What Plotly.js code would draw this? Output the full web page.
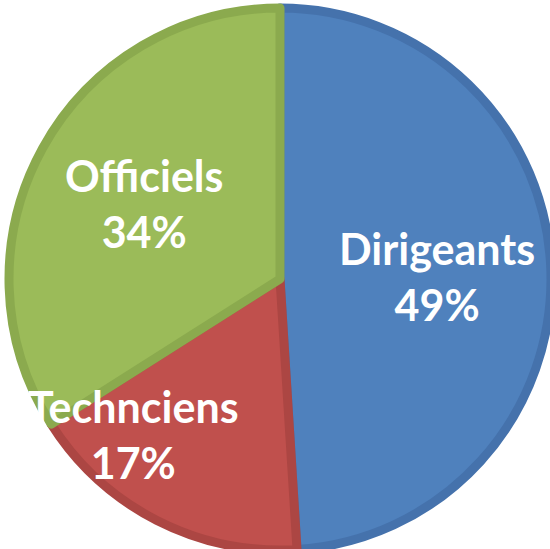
<!DOCTYPE html>
<html><head><meta charset="utf-8">
<script src="https://cdn.plot.ly/plotly-3.0.1.min.js"></script>
<style>html,body{margin:0;padding:0;overflow:hidden;background:#fff;width:550px;height:549px}</style>
</head><body><div id="chart"></div>
<script>
const labels = ["Dirigeants", "Technciens", "Officiels"];
const values = [49, 17, 34];
const fillColors = ["#4F81BD", "#C0504D", "#9BBB59"];
const edgeColors = ["#4572AC", "#AC4643", "#8BAA4E"];
const labelPos = [[0.780, 0.507], [0.238, 0.225], [0.257, 0.636]];

const total = values.reduce((a, b) => a + b, 0);
const W = 560, H = 560;

const data = [{
  type: "pie",
  labels: labels,
  values: values,
  sort: false,
  direction: "clockwise",
  rotation: 0,
  textinfo: "none",
  hoverinfo: "label+percent",
  marker: { colors: fillColors, line: { color: edgeColors, width: 9 } },
  domain: { x: [9 / W, 551 / W], y: [10 / H, 552 / H] },
  showlegend: false
}];

const annotations = labels.map((l, i) => ({
  text: l + "<br>" + Math.round(values[i] / total * 100) + "%",
  x: labelPos[i][0], y: labelPos[i][1], xref: "paper", yref: "paper",
  showarrow: false, xanchor: "center", yanchor: "middle",
  font: { family: "Lato, 'Liberation Sans', sans-serif", size: 43, color: "#FFFFFF", weight: "bold" }
}));

Plotly.newPlot("chart", data, {
  width: W, height: H,
  margin: { l: 0, r: 0, t: 0, b: 0 },
  paper_bgcolor: "#FFFFFF",
  annotations: annotations
}, { displayModeBar: false, staticPlot: true });
</script></body></html>
